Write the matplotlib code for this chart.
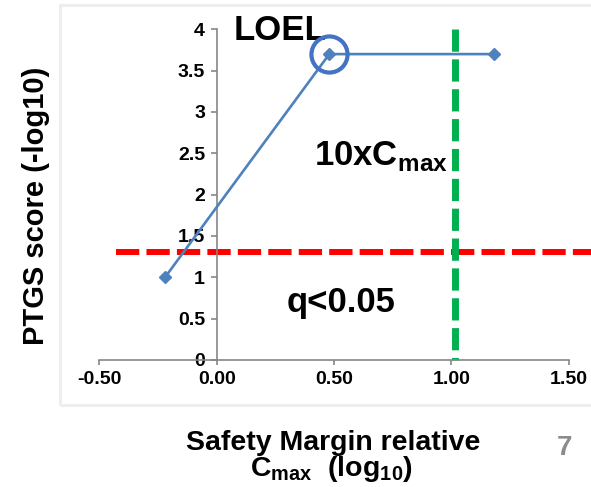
import matplotlib
matplotlib.use("Agg")
import matplotlib.pyplot as plt
from matplotlib.patches import Rectangle

plt.rcParams['font.family'] = ['Liberation Sans', 'DejaVu Sans']
plt.rcParams['font.weight'] = 'bold'
plt.rcParams['mathtext.fontset'] = 'custom'
plt.rcParams['mathtext.rm'] = 'Liberation Sans:bold'
plt.rcParams['mathtext.bf'] = 'Liberation Sans:bold'

# data
margin = [-0.22, 0.48, 1.18]      # safety margin relative Cmax (log10)
ptgs = [1.0, 3.7, 3.7]            # PTGS score (-log10)
loel_idx = 1
q_cut = 1.301                     # -log10(0.05)
cmax10 = 1.015                    # 10 x Cmax line
xticks = [-0.5, 0.0, 0.5, 1.0, 1.5]
yticks = [0, 0.5, 1, 1.5, 2, 2.5, 3, 3.5, 4]

W, H = 591, 487
fig = plt.figure(figsize=(W / 100, H / 100), dpi=100)
ax = fig.add_axes([99.3 / W, (H - 360) / H, (568.7 - 99.3) / W, (360 - 29.3) / H])

# light grey slide frame
fig.patches.append(Rectangle((60 / W, (H - 405) / H), 1.0, 400 / H, transform=fig.transFigure,
                             fill=False, edgecolor='#eeeeee', lw=2.2))

ax.plot(margin, ptgs, color='#4f81bd', lw=1.9, marker='D', ms=6, zorder=3)
ax.plot([margin[loel_idx]], [ptgs[loel_idx]], marker='o', ms=26, mfc='none',
        mec='#4472c4', mew=3, zorder=4, clip_on=False)

ax.plot([-0.43, 1.62], [q_cut, q_cut], color='red', lw=4.3, dashes=(3.9, 1.2),
        clip_on=False, zorder=2)
# drawn top-down so the dash pattern starts at the top
ax.plot([cmax10, cmax10], [4, 0], color='#00b050', lw=5, dashes=(3.2, 1.1),
        clip_on=False, zorder=2)

ax.set_xlim(-0.5, 1.5)
ax.set_ylim(0, 4)
ax.set_xticks(xticks)
ax.set_xticklabels(['%.2f' % v for v in xticks])
ax.set_yticks(yticks)
ax.set_yticklabels(['%g' % v for v in yticks])
ax.spines['left'].set_position(('data', 0))
for s in ['top', 'right']:
    ax.spines[s].set_visible(False)
for s in ['left', 'bottom']:
    ax.spines[s].set_color('#868686')
    ax.spines[s].set_linewidth(1.2)
ax.tick_params(axis='both', direction='out', color='#868686', width=1.2,
               labelsize=14, labelcolor='black')
ax.tick_params(axis='y', length=4.3, pad=4)
ax.tick_params(axis='x', length=3.6, pad=4)
ax.set_facecolor('none')
fig.patch.set_facecolor('white')

ax.text(0.072, 3.87, 'LOEL', fontsize=25, fontweight='bold', ha='left', va='baseline', clip_on=False)
ax.text(0.414, 2.36, r'10xC$_{\mathrm{max}}$', fontsize=25, fontweight='bold', ha='left', va='baseline')
ax.text(0.30, 0.58, 'q<0.05', fontsize=25, fontweight='bold', ha='left', va='baseline')

fig.text(36 / W, 1 - 206 / H, 'PTGS score (-log10)', rotation=90, fontsize=21,
         fontweight='bold', ha='center', va='center')
fig.text(333 / W, 1 - 450 / H, 'Safety Margin relative', fontsize=20.5,
         fontweight='bold', ha='center', va='baseline')
fig.text(332 / W, 1 - 476 / H, r'C$_{\mathrm{max}}$  (log$_{\mathrm{10}}$)', fontsize=20.5,
         fontweight='bold', ha='center', va='baseline')
fig.text(565 / W, 1 - 455 / H, '7', fontsize=20, fontweight='bold', color='#8c8c8c',
         ha='center', va='baseline')

fig.savefig('out.png', dpi=100)
